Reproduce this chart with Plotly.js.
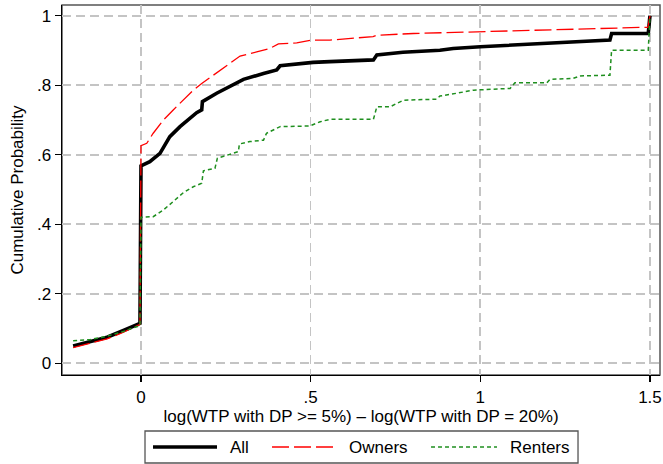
<!DOCTYPE html>
<html>
<head>
<meta charset="utf-8">
<script src="https://cdn.plot.ly/plotly-3.0.1.min.js"></script>
<style>html,body{margin:0;padding:0;background:#fff;}#chart{width:663px;height:464px;}</style>
</head>
<body>
<div id="chart"></div>
<script>
// Series names
var seriesNames = ["All", "Owners", "Renters"];

// All households (black solid)
var allX = [-0.2, -0.15, -0.1, -0.05, -0.02, -0.003, 0, 0.026, 0.056, 0.085, 0.115, 0.144, 0.164, 0.179, 0.181, 0.223, 0.262, 0.287, 0.302, 0.361, 0.4, 0.41, 0.459, 0.507, 0.557, 0.685, 0.695, 0.772, 0.881, 0.92, 1.0, 1.097, 1.196, 1.294, 1.382, 1.387, 1.495, 1.5];
var allY = [0.05, 0.062, 0.075, 0.095, 0.108, 0.115, 0.568, 0.58, 0.604, 0.652, 0.681, 0.705, 0.721, 0.729, 0.753, 0.777, 0.796, 0.81, 0.817, 0.834, 0.844, 0.856, 0.861, 0.866, 0.868, 0.873, 0.887, 0.895, 0.901, 0.906, 0.911, 0.916, 0.921, 0.925, 0.93, 0.949, 0.949, 1.0];

// Owners (red dashed)
var ownersX = [-0.2, -0.15, -0.1, -0.05, -0.02, -0.003, 0, 0.017, 0.036, 0.066, 0.095, 0.125, 0.154, 0.179, 0.213, 0.262, 0.292, 0.341, 0.38, 0.405, 0.459, 0.503, 0.557, 0.684, 0.695, 0.803, 0.92, 1.0, 1.146, 1.294, 1.391, 1.494, 1.5];
var ownersY = [0.045, 0.057, 0.07, 0.09, 0.105, 0.112, 0.626, 0.633, 0.662, 0.7, 0.729, 0.757, 0.786, 0.805, 0.829, 0.863, 0.884, 0.896, 0.906, 0.919, 0.922, 0.93, 0.93, 0.94, 0.944, 0.949, 0.952, 0.956, 0.959, 0.962, 0.966, 0.967, 1.0];

// Renters (green dotted)
var rentersX = [-0.2, -0.15, -0.1, -0.05, -0.02, -0.003, 0, 0.036, 0.066, 0.095, 0.125, 0.154, 0.179, 0.184, 0.218, 0.225, 0.253, 0.287, 0.29, 0.321, 0.361, 0.37, 0.41, 0.498, 0.528, 0.557, 0.685, 0.695, 0.734, 0.773, 0.871, 0.881, 0.93, 0.98, 1.088, 1.102, 1.196, 1.205, 1.274, 1.294, 1.382, 1.387, 1.495, 1.5];
var rentersY = [0.065, 0.068, 0.078, 0.092, 0.103, 0.108, 0.42, 0.422, 0.441, 0.465, 0.491, 0.508, 0.518, 0.554, 0.561, 0.59, 0.599, 0.609, 0.631, 0.638, 0.642, 0.662, 0.681, 0.683, 0.695, 0.702, 0.702, 0.738, 0.738, 0.757, 0.76, 0.769, 0.777, 0.786, 0.791, 0.807, 0.807, 0.817, 0.82, 0.827, 0.829, 0.901, 0.901, 1.0];

// Tick labels
var xTickVals = [0, 0.5, 1, 1.5];
var xTickText = ["0", ".5", "1", "1.5"];
var yTickVals = [0, 0.2, 0.4, 0.6, 0.8, 1];
var yTickText = ["0", ".2", ".4", ".6", ".8", "1"];

var xTitle = "log(WTP with DP >= 5%) \u2013 log(WTP with DP = 20%)";
var yTitle = "Cumulative Probability";

var FONT = "Liberation Sans, Arial, sans-serif";
var colors = ["#000000", "#ff0000", "#1f8f1f"];
var widths = [3.6, 1.3, 1.5];
var dashes = ["solid", "17px,5px", "4px,3px"];

var traces = [
  {x: allX, y: allY, name: seriesNames[0], mode: "lines", line: {color: colors[0], width: widths[0], dash: dashes[0]}, showlegend: false},
  {x: ownersX, y: ownersY, name: seriesNames[1], mode: "lines", line: {color: colors[1], width: widths[1], dash: dashes[1]}, showlegend: false},
  {x: rentersX, y: rentersY, name: seriesNames[2], mode: "lines", line: {color: colors[2], width: widths[2], dash: dashes[2]}, showlegend: false}
];

// Custom legend (paper coordinates)
var legY = -0.1946;
var legItems = [
  {x0: 0.1522, x1: 0.2592, tx: 0.2776},
  {x0: 0.3512, x1: 0.4565, tx: 0.4766},
  {x0: 0.6171, x1: 0.7274, tx: 0.7458}
];
var shapes = [
  {type: "rect", xref: "paper", yref: "paper", x0: 0, x1: 1, y0: 0, y1: 1, line: {color: "#555555", width: 1.5}, layer: "below"},
  {type: "rect", xref: "paper", yref: "paper", x0: 0.1388, x1: 0.8629, y0: -0.2378, y1: -0.1514, line: {color: "#555555", width: 1.3}, fillcolor: "rgba(0,0,0,0)"}
];
var annotations = [];
legItems.forEach(function (it, i) {
  shapes.push({type: "line", xref: "paper", yref: "paper", x0: it.x0, x1: it.x1, y0: legY, y1: legY,
    line: {color: colors[i], width: widths[i], dash: dashes[i]}});
  annotations.push({xref: "paper", yref: "paper", x: it.tx, y: legY, xanchor: "left", yanchor: "middle",
    text: seriesNames[i], showarrow: false, font: {family: FONT, size: 17, color: "#000"}});
});

var layout = {
  width: 663, height: 464,
  margin: {l: 62, r: 3, t: 5, b: 89},
  paper_bgcolor: "#ffffff", plot_bgcolor: "#ffffff",
  font: {family: FONT, size: 17, color: "#000"},
  showlegend: false,
  xaxis: {
    range: [-0.2328, 1.5296], tickvals: xTickVals, ticktext: xTickText,
    showline: true, linecolor: "#000", linewidth: 1.3, ticks: "outside", ticklen: 6, tickcolor: "#000", tickwidth: 1.3,
    showgrid: true, gridcolor: "#c4c4c4", gridwidth: 1.6, griddash: "9px,5px", zeroline: false,
    tickfont: {family: FONT, size: 17, color: "#000"},
    title: {text: xTitle, font: {family: FONT, size: 17, color: "#000"}, standoff: 1}
  },
  yaxis: {
    range: [-0.0337, 1.031], tickvals: yTickVals, ticktext: yTickText,
    showline: true, linecolor: "#000", linewidth: 1.3, ticks: "outside", ticklen: 6, tickcolor: "#000", tickwidth: 1.3,
    showgrid: true, gridcolor: "#c4c4c4", gridwidth: 1.6, griddash: "9px,5px", zeroline: false,
    tickfont: {family: FONT, size: 17, color: "#000"},
    title: {text: yTitle, font: {family: FONT, size: 17, color: "#000"}, standoff: 9}
  },
  shapes: shapes,
  annotations: annotations
};

Plotly.newPlot("chart", traces, layout, {displayModeBar: false, staticPlot: true});
</script>
</body>
</html>
